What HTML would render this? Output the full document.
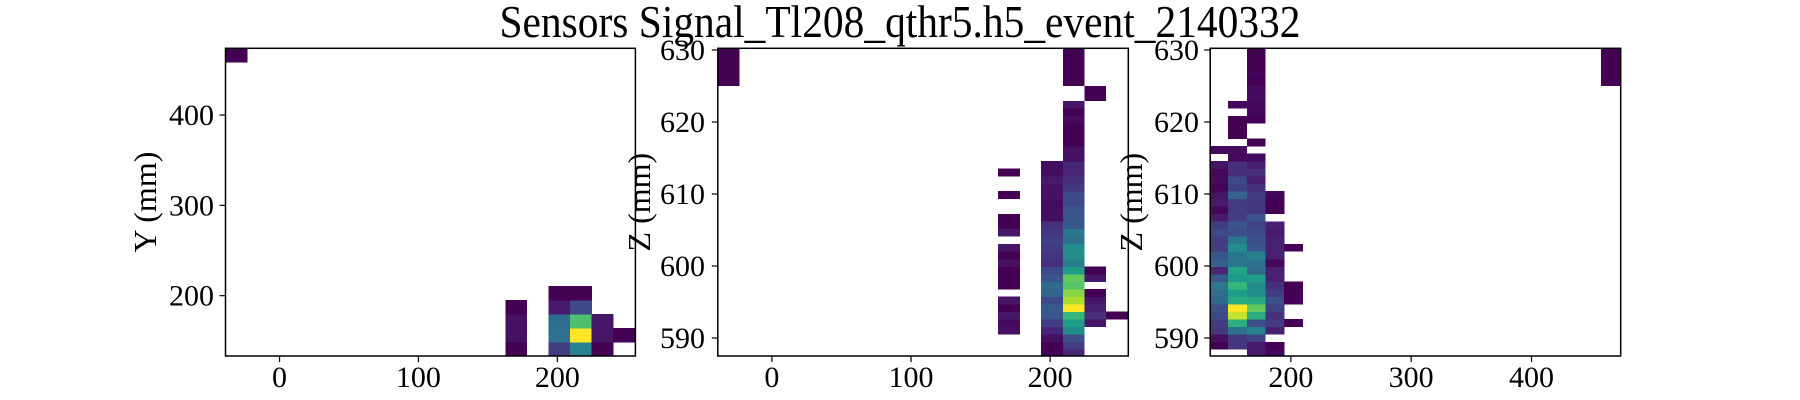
<!DOCTYPE html>
<html><head><meta charset="utf-8">
<style>
html,body{margin:0;padding:0;background:#fff;}
svg{display:block;font-family:"Liberation Serif","DejaVu Serif",serif;}
</style></head>
<body>
<svg id="fig" width="1800" height="400" viewBox="0 0 1800 400" xmlns="http://www.w3.org/2000/svg">
<rect x="0" y="0" width="1800" height="400" fill="#fff"/>
<text x="900" y="37" font-size="46" text-anchor="middle" textLength="801" lengthAdjust="spacingAndGlyphs">Sensors Signal_Tl208_qthr5.h5_event_2140332</text>
</svg>
<script>
// ---- data ----
const xTicksXY = [0, 100, 200];
const yTicksXY = [200, 300, 400];
const xTicksXZ = [0, 100, 200];
const zTicks = [590, 600, 610, 620, 630];
const xTicksYZ = [200, 300, 400];
const zTickLabels = ["590", "600", "610", "620", "630"];

// Panel 1 (X-Y) columns: bin index, first row, values (normalised signal)
const p1Col0 = {col: 0, start: 21, vals: [0]};
const p1Col13 = {col: 13, start: 0, vals: [0, 0.05, 0.05, 0]};
const p1Col15 = {col: 15, start: 0, vals: [0.2, 0.42, 0.4, 0.08, 0]};
const p1Col16 = {col: 16, start: 0, vals: [0.5, 1, 0.8, 0.25, 0]};
const p1Col17 = {col: 17, start: 0, vals: [0, 0.07, 0.07]};
const p1Col18 = {col: 18, start: 1, vals: [0]};

// Panel 2 (X-Z)
const p2Col0 = {col: 0, start: 36, vals: [0, 0, 0, 0, 0]};
const p2Col13 = {col: 13, start: 3, vals: [0.05, 0.03, 0.07, 0, 0.06, null, 0, 0, 0, 0.05, 0, 0.07, null, 0.07, 0, 0, null, null, 0, null, null, 0]};
const p2Col15 = {col: 15, start: 0, vals: [0, 0, 0.05, 0.12, 0.2, 0.3, 0.32, 0.25, 0.36, 0.38, 0.3, 0.25, 0.15, 0.18, 0.2, 0.22, 0.18, 0.15, 0.04, 0.04, 0.04, 0.05, 0.05, 0.08, 0.04, 0.04]};
const p2Col16 = {col: 16, start: 0, vals: [0.12, 0.2, 0.28, 0.55, 0.62, 0.75, 1.0, 0.93, 0.9, 0.82, 0.85, 0.62, 0.48, 0.55, 0.55, 0.42, 0.45, 0.32, 0.3, 0.3, 0.25, 0.25, 0.18, 0.15, 0.12, 0.12, 0.05, 0.05, 0, 0, 0, 0.03, 0, 0.07, null, null, 0, 0, 0, 0, 0]};
const p2Col17 = {col: 17, start: 4, vals: [0.07, 0.15, 0.1, 0.07, 0, null, 0.07, 0, null, null, null, null, null, null, null, null, null, null, null, null, null, null, null, null, null, null, null, null, null, null, 0, 0]};
const p2Col18 = {col: 18, start: 5, vals: [0]};

// Panel 3 (Y-Z)
const p3Col0 = {col: 0, start: 0, vals: [null, 0, 0.05, 0.18, 0.2, 0.25, 0.28, 0.38, 0.4, 0.45, 0.32, 0.12, 0.35, 0.3, 0.2, 0.2, 0.25, 0.2, 0.08, 0.02, 0.08, 0.06, 0.01, 0.03, 0.02, 0.06, null, 0.03]};
const p3Col1 = {col: 1, start: 0, vals: [null, 0.18, 0.18, 0.42, 0.7, 0.95, 1.0, 0.68, 0.62, 0.75, 0.6, 0.65, 0.45, 0.45, 0.55, 0.45, 0.28, 0.3, 0.2, 0.2, 0.2, 0.35, 0.22, 0.25, 0.15, 0.15, 0.02, 0.03, null, 0, 0, 0, null, 0.02]};
const p3Col2 = {col: 2, start: 0, vals: [0.08, 0.08, 0.22, 0.5, 0.28, 0.7, 0.85, 0.68, 0.55, 0.55, 0.62, 0.38, 0.42, 0.5, 0.3, 0.28, 0.25, 0.22, 0.3, 0.18, 0.18, 0.2, 0.15, 0.1, 0.15, 0.1, 0.03, null, 0, null, null, 0, 0.02, 0.02, 0.03, 0.03, 0, 0.01, 0, 0, 0]};
const p3Col3 = {col: 3, start: 0, vals: [0.02, 0, null, 0.1, 0.2, 0.15, 0.22, 0.28, 0.2, 0.15, 0.1, 0.1, 0.02, 0.1, 0.1, 0.1, 0.08, 0.1, null, 0, 0, 0.02]};
const p3Col4 = {col: 4, start: 4, vals: [0, null, null, 0, 0, 0, null, null, null, null, 0]};
const p3Col21 = {col: 21, start: 36, vals: [0, 0, 0, 0, 0]};

// ---- rendering ----
const NS = "http://www.w3.org/2000/svg";
const svg = document.getElementById("fig");
const stops = [[0,"#440154"],[0.125,"#482878"],[0.25,"#3e4989"],[0.375,"#31688e"],[0.5,"#26828e"],[0.625,"#1f9e89"],[0.75,"#35b779"],[0.875,"#6ece58"],[0.9375,"#b5de2b"],[1,"#fde725"]];
function hex(c){return [1,3,5].map(i=>parseInt(c.substr(i,2),16));}
function viridis(v){
  v=Math.max(0,Math.min(1,v));
  for(let i=1;i<stops.length;i++){
    if(v<=stops[i][0]){
      const t=(v-stops[i-1][0])/(stops[i][0]-stops[i-1][0]);
      const a=hex(stops[i-1][1]),b=hex(stops[i][1]);
      return "rgb("+a.map((x,k)=>Math.round(x+(b[k]-x)*t)).join(",")+")";
    }
  }
  return stops[stops.length-1][1];
}
function mk(tag, attrs, parent){
  const e=document.createElementNS(NS,tag);
  for(const k in attrs) e.setAttribute(k,attrs[k]);
  (parent||svg).appendChild(e);
  return e;
}
function panel(cfg){
  const {id,L,R,T,B,xlim,ylim,x0,dx,y0,dy,cols,xt,yt,ylab,labX,tickLabelRight} = cfg;
  const sx = v => L + (v - xlim[0]) / (xlim[1] - xlim[0]) * (R - L);
  const sy = v => B - (v - ylim[0]) / (ylim[1] - ylim[0]) * (B - T);
  const g = mk("g",{});
  
  
  const cp = mk("clipPath",{id:id+"-clip"},g);
  mk("rect",{x:L,y:T,width:R-L,height:B-T},cp);
  const cells = mk("g",{"clip-path":"url(#"+id+"-clip)","shape-rendering":"crispEdges"},g);
  
  
  cols.forEach(c=>{
    c.vals.forEach((v,k)=>{
      if(v===null) return;
      const xa = x0 + c.col*dx, xb = xa + dx;
      const ya = y0 + (c.start+k)*dy, yb = ya + dy;
      const r = mk("rect",{x:sx(xa),y:sy(yb),width:sx(xb)-sx(xa)+0.3,height:sy(ya)-sy(yb)+0.3,fill:viridis(v)},cells);
      
      
    });
  });
  const frame = mk("rect",{x:L,y:T,width:R-L,height:B-T,fill:"none",stroke:"#000","stroke-width":1.5},g);
  
  
  xt.forEach(t=>{
    const x=sx(t);
    const tk=mk("line",{x1:x,x2:x,y1:B,y2:B+6,stroke:"#000","stroke-width":1.2},g);
    
    
    const tl=mk("text",{x:x,y:387,"font-size":30,"text-anchor":"middle"},g);
    tl.textContent=String(t);
    
    
  });
  yt.forEach((t,i)=>{
    const y=sy(t);
    const tk=mk("line",{x1:L-6,x2:L,y1:y,y2:y,stroke:"#000","stroke-width":1.2},g);
    
    
    const tl=mk("text",{x:tickLabelRight,y:y+10,"font-size":30,"text-anchor":"end"},g);
    tl.textContent=(cfg.ytl?cfg.ytl[i]:String(t));
    
    
  });
  const yl=mk("text",{x:0,y:0,"font-size":32,"text-anchor":"middle",transform:"translate("+labX+","+((T+B)/2)+") rotate(-90)"},g);
  yl.textContent=ylab;
  
  
}
panel({id:"xy",L:225.5,R:635.4,T:48.3,B:356,xlim:[-38.9,256.2],ylim:[133.2,473.9],x0:-38.9,dx:15.5,y0:133.2,dy:15.5,
  cols:[p1Col0,p1Col13,p1Col15,p1Col16,p1Col17,p1Col18],xt:xTicksXY,yt:yTicksXY,ylab:"Y (mm)",labX:156,tickLabelRight:214});
panel({id:"xz",L:717.8,R:1128.3,T:48.3,B:356,xlim:[-38.9,256.2],ylim:[587.5,630.24],x0:-38.9,dx:15.5,y0:587.38,dy:1.046,
  cols:[p2Col0,p2Col13,p2Col15,p2Col16,p2Col17,p2Col18],xt:xTicksXZ,yt:zTicks,ytl:zTickLabels,ylab:"Z (mm)",labX:650,tickLabelRight:705});
panel({id:"yz",L:1210.2,R:1620.7,T:48.3,B:356,xlim:[133.0,474.1],ylim:[587.5,630.24],x0:132.4,dx:15.5,y0:587.38,dy:1.046,
  cols:[p3Col0,p3Col1,p3Col2,p3Col3,p3Col4,p3Col21],xt:xTicksYZ,yt:zTicks,ytl:zTickLabels,ylab:"Z (mm)",labX:1142,tickLabelRight:1199});
</script>
</body></html>
